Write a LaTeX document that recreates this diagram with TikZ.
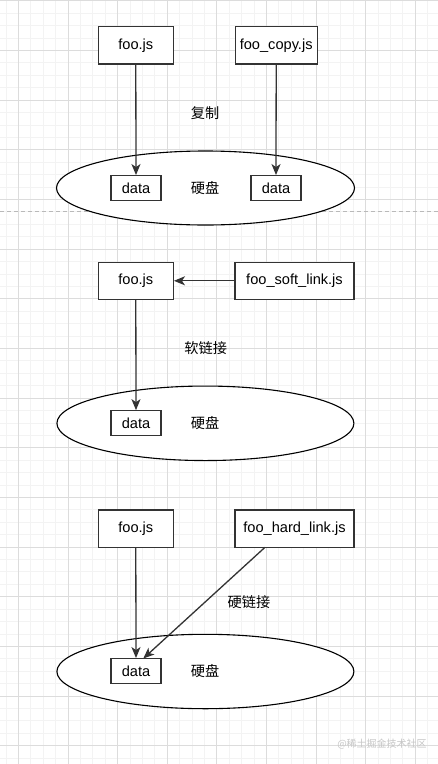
\documentclass[tikz,border=0pt]{standalone}
\usepackage{fontspec}
\setmainfont{Liberation Sans}
\newfontfamily\cjk{Noto Sans CJK SC}
\usetikzlibrary{arrows.meta,shapes.geometric}
\definecolor{gmajor}{HTML}{DCDCDC}
\definecolor{gminor}{HTML}{F3F3F3}
\definecolor{edge}{HTML}{333333}
\tikzset{
  filebox/.style={draw=edge, line width=1.3pt, fill=white, inner sep=0pt, font=\fontsize{14.6}{16}\selectfont},
  databox/.style={draw=edge, line width=1.3pt, fill=white, inner sep=0pt, minimum width=50pt, minimum height=25pt, font=\fontsize{14.6}{16}\selectfont},
  disk/.style={draw=black, line width=1.1pt, fill=white, ellipse, inner sep=0pt},
  lbl/.style={font=\cjk\fontsize{14.2}{16}\selectfont, inner sep=0pt},
  conn/.style={draw=edge, line width=1.3pt, -{Stealth[length=11pt,width=9pt,inset=3pt]}},
}
\begin{document}
\begin{tikzpicture}[x=1pt,y=-1pt]
\useasboundingbox (0,0) rectangle (438,764);
\fill[white] (0,0) rectangle (438,764);
% grid
\foreach \i in {-1,...,36} {
  \draw[gminor, line width=0.6pt] ({18.3+12.4*\i},0) -- ({18.3+12.4*\i},764);
}
\foreach \i in {0,...,62} {
  \draw[gminor, line width=0.6pt] (0,{0.7+12.415*\i}) -- (438,{0.7+12.415*\i});
}
\foreach \i in {0,...,8} {
  \draw[gmajor, line width=0.8pt] ({18.3+49.6*\i},0) -- ({18.3+49.6*\i},764);
}
\foreach \i in {0,...,15} {
  \draw[gmajor, line width=0.8pt] (0,{0.7+49.66*\i}) -- (438,{0.7+49.66*\i});
}
% dashed separator
\draw[gray!55, dash pattern=on 4pt off 3pt, line width=0.8pt] (0,211) -- (438,211);

% ===== section 1: copy =====
\node[disk, minimum width=298pt, minimum height=74pt] (disk1) at (205.5,188) {};
\node[filebox, minimum width=75pt, minimum height=37.5pt] (foo1) at (135.8,45.3) {foo.js};
\node[filebox, minimum width=82pt, minimum height=37.5pt] (copy1) at (276.2,45.3) {foo\_copy.js};
\node[databox] (data1a) at (136,188.2) {data};
\node[databox] (data1b) at (276,188.2) {data};
\node[lbl] (hd1) at (205,188) {硬盘};
\node[lbl] (cp) at (205,112.7) {复制};
\draw[conn] (foo1.south) -- (data1a.north);
\draw[conn] (copy1.south) -- (data1b.north);

% ===== section 2: soft link =====
\node[disk, minimum width=297pt, minimum height=74.5pt] (disk2) at (205.4,423.3) {};
\node[filebox, minimum width=119pt, minimum height=37pt] (soft) at (294.5,280.8) {foo\_soft\_link.js};
\node[filebox, minimum width=75pt, minimum height=37pt] (foo2) at (135.8,280.8) {foo.js};
\node[databox] (data2) at (136,423.3) {data};
\node[lbl] (hd2) at (205,422.7) {硬盘};
\node[lbl] (sl) at (205.7,348.3) {软链接};
\draw[conn] (soft.west) -- (foo2.east);
\draw[conn] (foo2.south) -- (data2.north);

% ===== section 3: hard link =====
\node[disk, minimum width=297pt, minimum height=74.4pt] (disk3) at (205.4,671.5) {};
\node[filebox, minimum width=75pt, minimum height=37.3pt] (foo3) at (135.8,528.7) {foo.js};
\node[filebox, minimum width=119pt, minimum height=37.3pt] (hard) at (294.5,528.7) {foo\_hard\_link.js};
\node[databox] (data3) at (136,671.2) {data};
\node[lbl] (hd3) at (205,671) {硬盘};
\node[lbl] (hl) at (249,601.7) {硬链接};
\coordinate (hardfoot) at (265,547.3);
\coordinate (datatip) at (143.3,658.5);
\draw[conn] (foo3.south) -- (data3.north);
\draw[conn] (hardfoot) -- (datatip);

% watermark
\node[font=\cjk\fontsize{10}{12}\selectfont, text=gray!45, inner sep=0pt] (wm) at (382,744) {@稀土掘金技术社区};
\end{tikzpicture}
\end{document}
